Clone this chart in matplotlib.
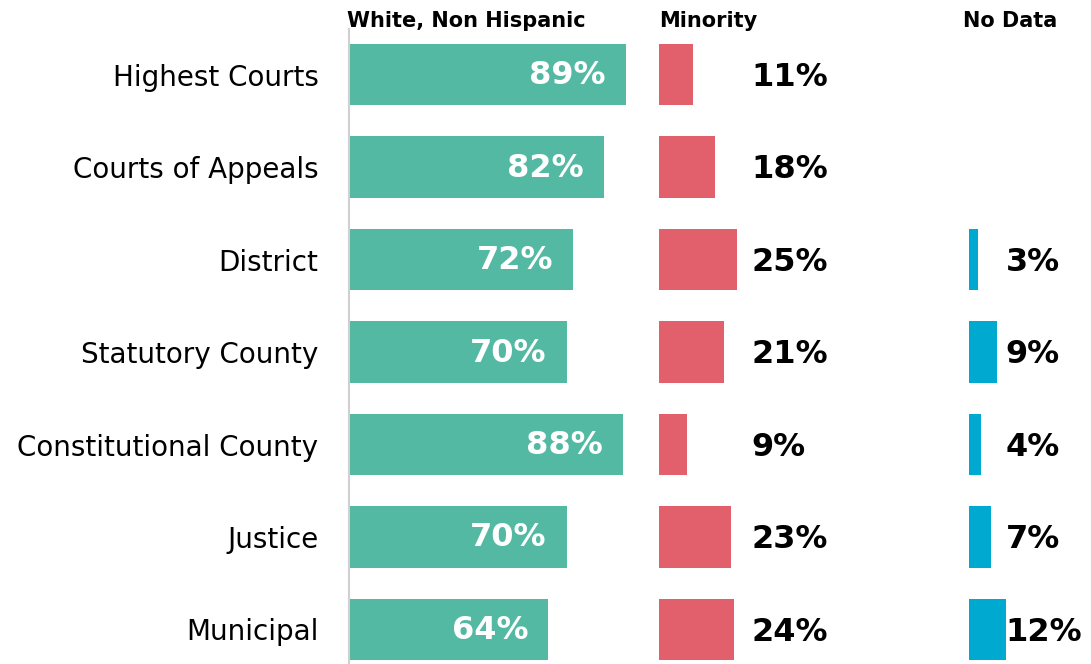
import matplotlib
matplotlib.use("Agg")
import matplotlib.pyplot as plt

# judge counts by court level, shares in percent
courts = ["Highest Courts", "Courts of Appeals", "District", "Statutory County",
          "Constitutional County", "Justice", "Municipal"]
white = [89, 82, 72, 70, 88, 70, 64]
minority = [11, 18, 25, 21, 9, 23, 24]
no_data = [None, None, 3, 9, 4, 7, 12]

headers = ["White, Non Hispanic", "Minority", "No Data"]

teal = "#53B9A3"
red = "#E1606C"
blue = "#00A9D0"

W, H = 1091, 664
fig = plt.figure(figsize=(W / 100, H / 100), dpi=100)

# panel placement in pixels: left, width
top_px, bot_px = 29, 664
ppu = 3.11  # pixels per percentage point
panels = [(349, 95), (659, 95), (969, 39)]

axes = []
for left, span in panels:
    ax = fig.add_axes([left / W, 1 - bot_px / H, span * ppu / W, (bot_px - top_px) / H])
    ax.set_xlim(0, span)
    ax.set_ylim(6.373, -0.492)
    for s in ax.spines.values():
        s.set_visible(False)
    ax.set_xticks([])
    ax.set_yticks([])
    axes.append(ax)

ax1, ax2, ax3 = axes
ys = list(range(len(courts)))
bh = 0.66

# white, non hispanic
ax1.barh(ys, white, height=bh, color=teal)
ax1.spines["left"].set_visible(True)
ax1.spines["left"].set_color("#D0D0D0")
ax1.spines["left"].set_linewidth(1.5)
ax1.set_yticks(ys)
ax1.set_yticklabels(courts, fontsize=20, family="DejaVu Sans")
ax1.tick_params(axis="y", length=0, pad=22)
for y, v in zip(ys, white):
    ax1.annotate(f"{v}%", (v, y), xytext=(-20, -1), textcoords="offset pixels",
                 ha="right", va="center", color="white", fontsize=23, fontweight="bold")

# minority
ax2.barh(ys, minority, height=bh, color=red)
for y, v in zip(ys, minority):
    ax2.text(29.6, y + 0.03, f"{v}%", ha="left", va="center", color="black",
             fontsize=23, fontweight="bold")

# no data
nd_y = [y for y, v in zip(ys, no_data) if v is not None]
nd_v = [v for v in no_data if v is not None]
ax3.barh(nd_y, nd_v, height=bh, color=blue)
for y, v in zip(nd_y, nd_v):
    ax3.text(11.8, y + 0.03, f"{v}%", ha="left", va="center", color="black",
             fontsize=23, fontweight="bold")

for x, t in zip([347, 659, 963], headers):
    fig.text(x / W, 1 - 21 / H, t, ha="left", va="center", fontsize=15,
             fontweight="bold", color="black")

fig.savefig("out.png", dpi=100)
